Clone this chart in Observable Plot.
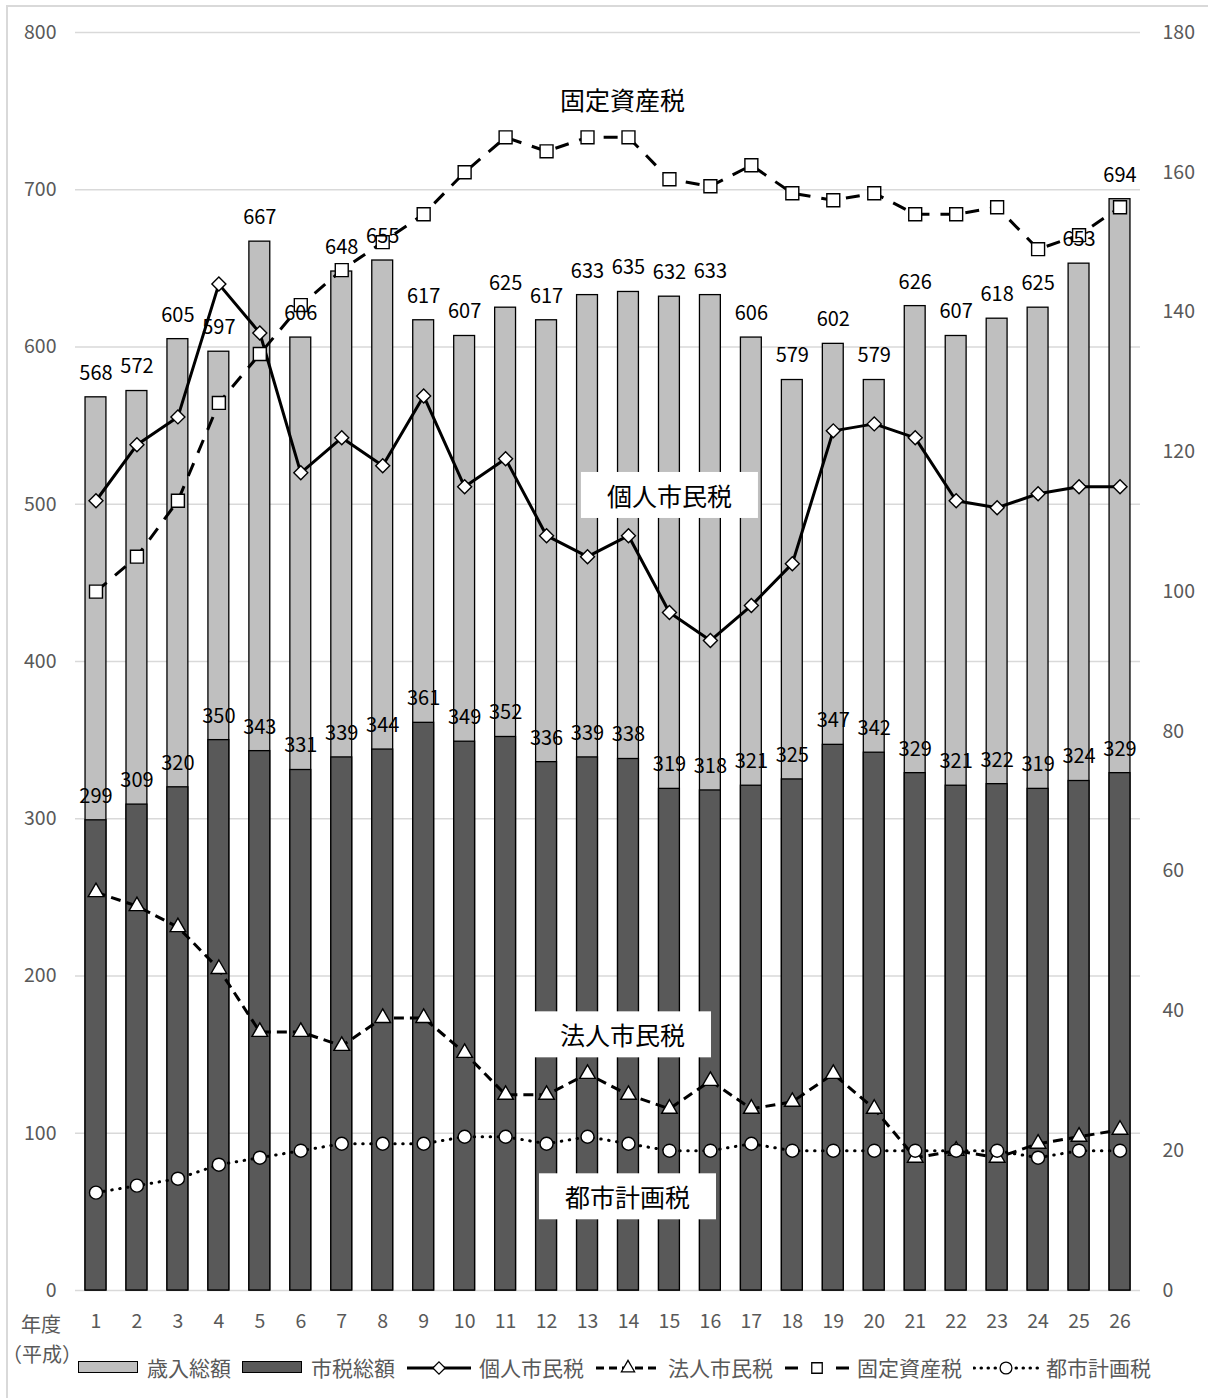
<!DOCTYPE html>
<html><head><meta charset="utf-8">
<script src="https://cdn.jsdelivr.net/npm/d3@7"></script>
<script src="https://cdn.jsdelivr.net/npm/@observablehq/plot@0.6"></script>
<style>
body{margin:0;background:#fff;width:1208px;height:1398px;overflow:hidden;position:relative;font-family:"Noto Sans CJK JP","Noto Sans",sans-serif;}
#frame{position:absolute;left:6px;top:5px;width:1400px;height:1600px;border:2px solid #d9d9d9;}
#chart{position:absolute;left:0;top:0;}
.xl{position:absolute;left:2px;width:78px;text-align:center;font-size:20px;line-height:20px;height:20px;color:#595959;}
#legend{position:absolute;left:78px;top:1352px;height:30px;display:flex;align-items:center;font-size:21px;color:#595959;white-space:nowrap;}
#legend .item{display:flex;align-items:center;margin-right:11px;}
#legend .box{width:58px;height:10px;border:1.5px solid #000;margin-right:9px;}
#legend svg{margin-right:7px;}
</style>
</head><body>
<div id="frame"></div>
<div id="chart"></div>
<div class="xl" style="top:1314px">年度</div>
<div class="xl" style="top:1344px">（平成）</div>
<div id="legend"></div>
<script>
// ---- data ----
const years = [1,2,3,4,5,6,7,8,9,10,11,12,13,14,15,16,17,18,19,20,21,22,23,24,25,26];
const revenueTotal = [568,572,605,597,667,606,648,655,617,607,625,617,633,635,632,633,606,579,602,579,626,607,618,625,653,694]; // 歳入総額 (left axis)
const cityTaxTotal = [299,309,320,350,343,331,339,344,361,349,352,336,339,338,319,318,321,325,347,342,329,321,322,319,324,329]; // 市税総額 (left axis)
const individualTax = [113,121,125,144,137,117,122,118,128,115,119,108,105,108,97,93,98,104,123,124,122,113,112,114,115,115]; // 個人市民税 (right axis)
const corporateTax = [57,55,52,46,37,37,35,39,39,34,28,28,31,28,26,30,26,27,31,26,19,20,19,21,22,23]; // 法人市民税
const propertyTax = [100,105,113,127,134,141,146,150,154,160,165,163,165,165,159,158,161,157,156,157,154,154,155,149,151,155]; // 固定資産税
const planningTax = [14,15,16,18,19,20,21,21,21,22,22,21,22,21,20,20,21,20,20,20,20,20,20,19,20,20]; // 都市計画税
const leftTicks = [0,100,200,300,400,500,600,700,800];
const rightTicks = [0,20,40,60,80,100,120,140,160,180];
const annoLabels = ["固定資産税","個人市民税","法人市民税","都市計画税"];
const annoYears = [14,15,14,14];
const annoValues = [756,504,161,58];

// ---- build ----
const K = 800/180; // right axis -> left axis units
const bars = years.map((y,i)=>({year:y, revenue:revenueTotal[i], tax:cityTaxTotal[i]}));
const seriesNames = ["個人市民税","法人市民税","固定資産税","都市計画税"];
const seriesVals = [individualTax, corporateTax, propertyTax, planningTax];
const seriesStyle = {
  "個人市民税": {symbol:"diamond2", r:6.3, dash:null, cap:"butt", d3sym:d3.symbolDiamond2, legDash:null, legSize:95},
  "法人市民税": {symbol:"triangle", r:5.8, dash:"10,6", cap:"butt", d3sym:d3.symbolTriangle, legDash:"8,5", legSize:75},
  "固定資産税": {symbol:"square", r:7.3, dash:"14,11", cap:"butt", d3sym:d3.symbolSquare, legDash:"13,38", legSize:110},
  "都市計画税": {symbol:"circle", r:6.5, dash:"0.5,7.5", cap:"round", d3sym:d3.symbolCircle, legDash:"0.5,6.5", legSize:110}
};
const font = "'Noto Sans CJK JP','Noto Sans',sans-serif";

const marks = [
  Plot.gridY(leftTicks, {stroke:"#d9d9d9", strokeOpacity:1, strokeWidth:1.5}),
  Plot.barY(bars, {x:"year", y:"revenue", fill:"#bfbfbf", stroke:"#000", strokeWidth:1.3}),
  Plot.barY(bars, {x:"year", y:"tax", fill:"#595959", stroke:"#000", strokeWidth:1.3}),
];
annoLabels.forEach((t,i)=>{
  marks.push(Plot.text([{year:annoYears[i], v:annoValues[i], t}], {x:"year", y:"v", text:"t", fontSize:25, fill:"#000", dx: i===1?0:(i===3?-1:-6), className:"anno"}));
});
seriesNames.forEach((name,k)=>{
  const st = seriesStyle[name];
  const data = years.map((y,i)=>({year:y, v:seriesVals[k][i]*K}));
  marks.push(Plot.line(data, {x:"year", y:"v", stroke:"#000", strokeWidth:3, strokeDasharray:st.dash, strokeLinecap:st.cap}));
});
seriesNames.forEach((name,k)=>{
  const st = seriesStyle[name];
  const data = years.map((y,i)=>({year:y, v:seriesVals[k][i]*K}));
  marks.push(Plot.dot(data, {x:"year", y:"v", symbol:st.symbol, r:st.r, fill:"#fff", stroke:"#000", strokeWidth:1.4}));
});
marks.push(
  Plot.text(bars, {x:"year", y:"revenue", text:d=>String(d.revenue), dy:-24, fontSize:20, fill:"#000"}),
  Plot.text(bars, {x:"year", y:"tax", text:d=>String(d.tax), dy:-24, fontSize:20, fill:"#000"}),
  Plot.axisY(leftTicks, {anchor:"left", tickSize:0, tickPadding:19, fontSize:19.5, color:"#595959", label:null}),
  Plot.axisY(rightTicks.map(v=>v*K), {anchor:"right", tickSize:0, tickPadding:22, fontSize:19.5, color:"#595959", label:null, tickFormat:d=>String(Math.round(d/K))}),
  Plot.axisX({tickSize:0, tickPadding:24, fontSize:19.5, color:"#595959", label:null})
);

const chart = Plot.plot({
  width:1208, height:1340,
  marginLeft:75, marginRight:68, marginTop:32, marginBottom:50,
  style:{fontFamily:font, fontSize:"19px", background:"transparent", overflow:"visible"},
  x:{type:"band", domain:years, paddingInner:0.49, paddingOuter:0.245, round:false},
  y:{domain:[0,800]},
  marks
});
document.getElementById("chart").appendChild(chart);

// white boxes behind the annotation labels
d3.select(chart).selectAll("g.anno text").each(function(){
  const b = this.getBBox();
  const padX = 26, padY = 7;
  const r = document.createElementNS("http://www.w3.org/2000/svg","rect");
  r.setAttribute("x", b.x-padX); r.setAttribute("y", b.y-padY+2);
  r.setAttribute("width", b.width+2*padX); r.setAttribute("height", b.height+2*padY-4);
  r.setAttribute("fill","#fff");
  const tr = this.getAttribute("transform"); if (tr) r.setAttribute("transform", tr);
  this.parentNode.insertBefore(r, this);
});

// legend
const legend = d3.select("#legend");
[["歳入総額","#bfbfbf"],["市税総額","#595959"]].forEach(([name,fill])=>{
  const it = legend.append("div").attr("class","item");
  it.append("div").attr("class","box").style("background",fill);
  it.append("span").text(name);
});
seriesNames.forEach(name=>{
  const st = seriesStyle[name];
  const it = legend.append("div").attr("class","item");
  const svg = it.append("svg").attr("width",66).attr("height",20);
  svg.append("line").attr("x1",1).attr("x2",65).attr("y1",11).attr("y2",11)
    .attr("stroke","#000").attr("stroke-width",3)
    .attr("stroke-dasharray", st.legDash)
    .attr("stroke-linecap", st.cap);
  svg.append("path").attr("d", d3.symbol(st.d3sym, st.legSize)()).attr("transform","translate(33,11)")
    .attr("fill","#fff").attr("stroke","#000").attr("stroke-width",1.3);
  it.append("span").text(name);
});
</script>
</body></html>
